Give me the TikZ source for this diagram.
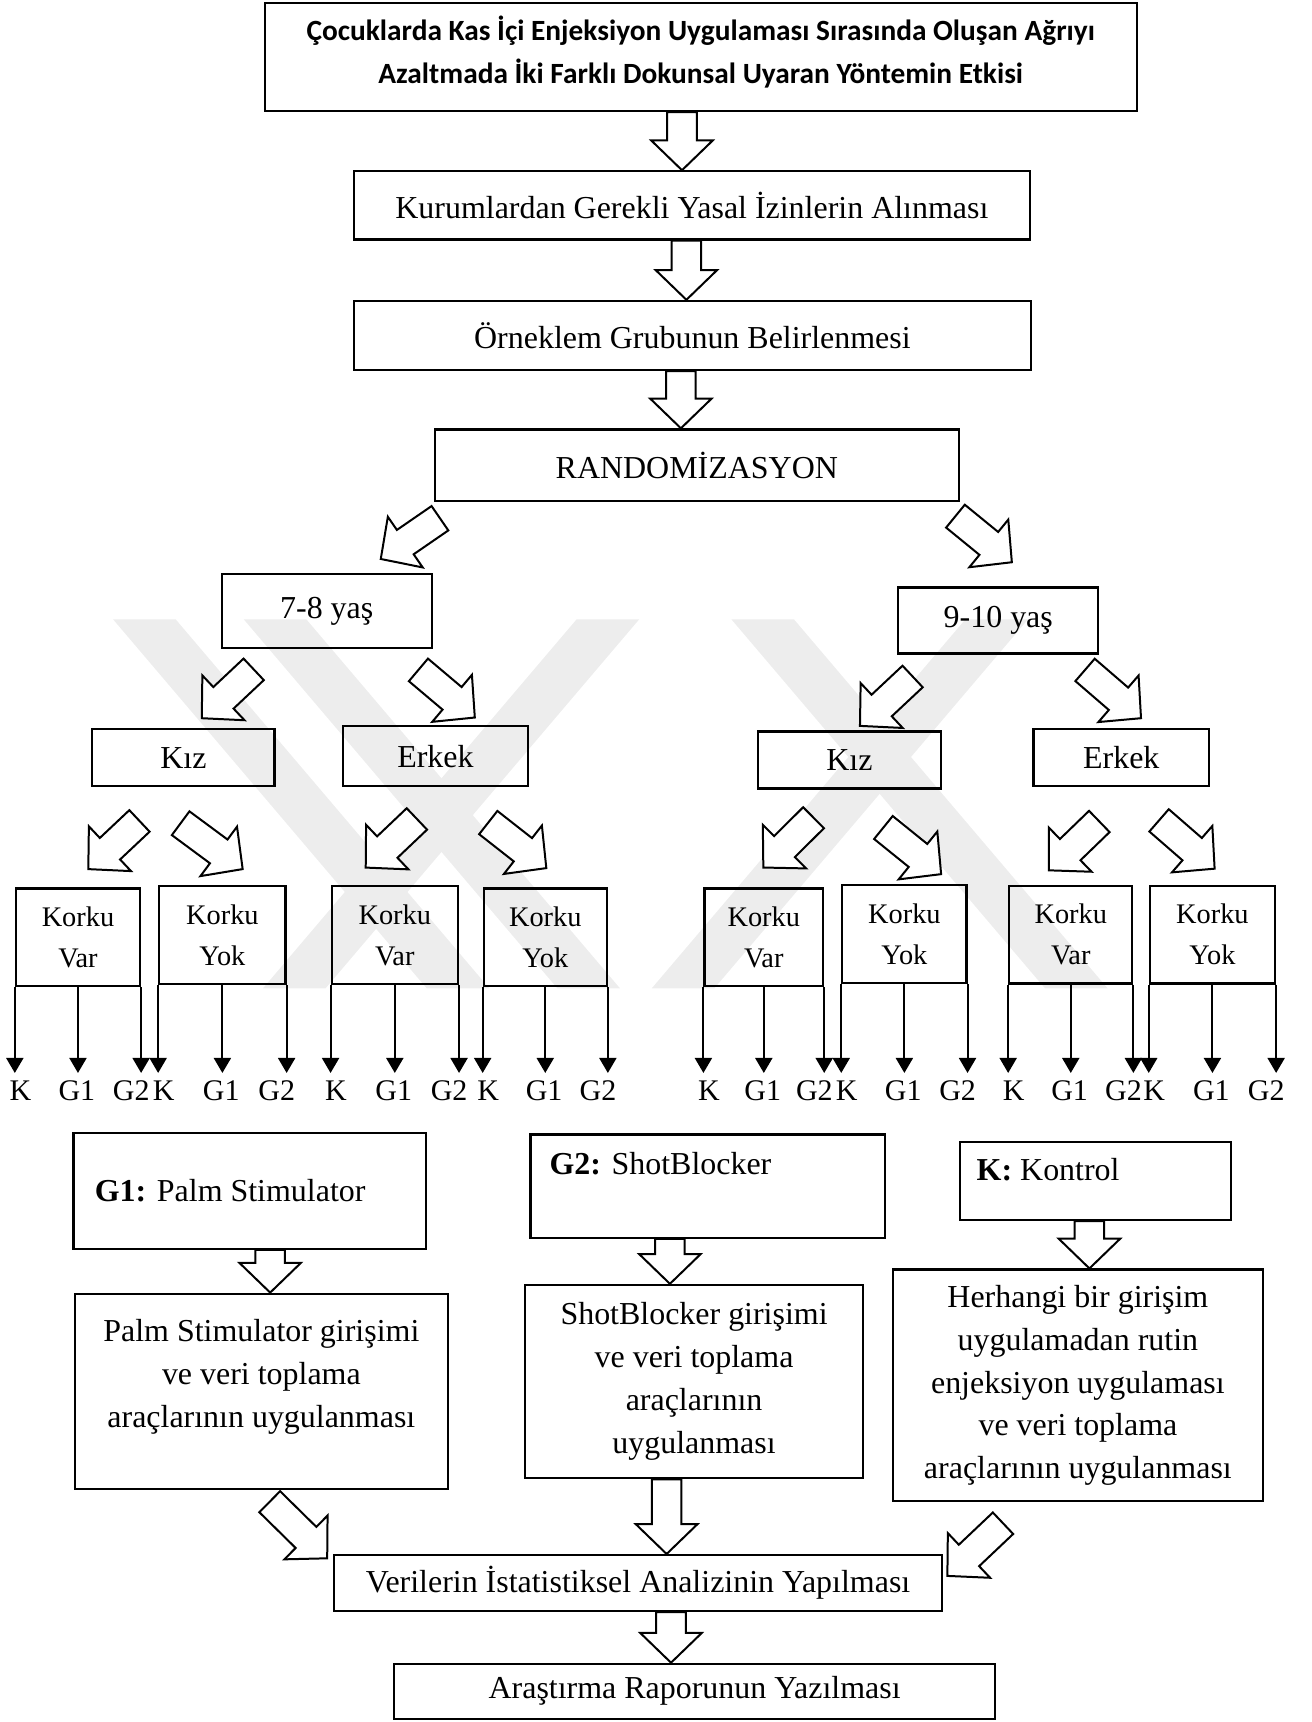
\documentclass[tikz,border=0pt]{standalone}
\usepackage{fontspec}
\setmainfont{Liberation Serif}
\newfontfamily\titlefont{Carlito}
\usetikzlibrary{arrows.meta,calc}

\def\pxu{0.55pt}

\tikzset{
    block/.style={draw, line width=1.1pt, inner sep=0pt, align=center,
        font=\fontsize{16}{21.5}\selectfont},
    sz/.style 2 args={minimum width=#1*\pxu, minimum height=#2*\pxu},
    korku/.style={block, font=\fontsize{14.2}{20.4}\selectfont},
    fatarr/.style={draw, line width=1pt, fill=white},
    splitarr/.style={line width=1pt, -{Triangle[width=8.5pt, length=7.5pt]}},
    grp/.style={anchor=base, inner sep=0pt, font=\fontsize{15}{18}\selectfont},
    tag/.style={anchor=west, inner sep=0pt, font=\fontsize{16}{21.5}\selectfont},
    inner/.style={inner sep=0pt, align=center, font=\fontsize{16}{21.5}\selectfont},
    wmark/.style={fill=black!7},
}

\newcommand{\fatarrow}[2]{%
    \path let \p1=(#1), \p2=(#2),
        \n1={atan2(\y2-\y1,\x2-\x1)}, \n2={veclen(\x2-\x1,\y2-\y1)} in
        \pgfextra{\xdef\fatang{\n1}\xdef\fatlen{\n2}};
    \draw[fatarr, shift={(#1)}, rotate=\fatang]
        (0pt,-7.4pt) -- ({\fatlen-14.9pt},-7.4pt) -- ({\fatlen-14.9pt},-15.4pt)
        -- ({\fatlen},0pt) -- ({\fatlen-14.9pt},15.4pt) -- ({\fatlen-14.9pt},7.4pt)
        -- (0pt,7.4pt) -- cycle;
}

\begin{document}
\begin{tikzpicture}[x=0.55pt, y=-0.55pt]
    \useasboundingbox (0,0) rectangle (1194,1568);

    \foreach \xa/\xb in {103/388.6, 222/507.6, 525/239.4, 666/951.6, 879/593.4}
        \fill[wmark] (\xa,564) -- ++(57,0) -- (\xb+57,900) -- (\xb,900) -- cycle;

    \node[block, sz={794}{98}] (title) at (638,52) {};
    \node[inner, font=\titlefont\bfseries\fontsize{14.7}{21.5}\selectfont] (titletext) at ($(title)+(0,-5)$)
        {Çocuklarda Kas İçi Enjeksiyon Uygulaması Sırasında Oluşan Ağrıyı\\Azaltmada İki Farklı Dokunsal Uyaran Yöntemin Etkisi};
    \node[block, sz={616}{62}] (kurum) at (630,187) {Kurumlardan Gerekli Yasal İzinlerin Alınması};
    \node[block, sz={617}{63}] (orn) at (630.5,305.5) {Örneklem Grubunun Belirlenmesi};
    \node[block, sz={477}{65}] (rand) at (634.5,423.5) {RANDOMİZASYON};

    \node[block, sz={191}{67}] (y78) at (297.5,556.5) {7-8 yaş};
    \node[block, sz={182}{60}] (y910) at (909,565) {9-10 yaş};

    \node[block, sz={166}{52}] (kiz1) at (167,690) {Kız};
    \node[block, sz={169}{55}] (erk1) at (396.5,688.5) {Erkek};
    \node[block, sz={167}{52}] (kiz2) at (773.5,692) {Kız};
    \node[block, sz={160}{52}] (erk2) at (1021,690) {Erkek};

    \coordinate (tiprow) at (0,977);
    \coordinate (labrow) at (0,1002);
    \foreach \nm/\x/\y/\w/\lbl in {kv1/71/853.5/113/Var, ky1/202.5/851.5/115/Yok,
        kv2/359.5/851.5/115/Var, ky2/496.5/853.5/112/Yok, kv3/695.5/853.5/108/Var,
        ky3/823.5/850.5/113/Yok, kv4/975/851/112/Var, ky4/1104/851/114/Yok}{
        \node[korku, sz={\w}{89}] (\nm) at (\x,\y) {Korku\\\lbl};
        \node[grp] (\nm-k) at ($(\nm.south west |- labrow)+(5,0)$) {K};
        \node[grp] (\nm-g1) at ($(\nm.south |- labrow)+(-1,0)$) {G1};
        \node[grp] (\nm-g2) at ($(\nm.south east |- labrow)+(-9,0)$) {G2};
        \draw[splitarr] (\nm.south west) -- (\nm.south west |- tiprow);
        \draw[splitarr] (\nm.south) -- (\nm.south |- tiprow);
        \draw[splitarr] (\nm.south east) -- (\nm.south east |- tiprow);
    }

    \node[block, sz={321}{105}] (g1) at (227.5,1084.5) {};
    \node[tag] (g1t) at ($(g1.west)+(20,0)$) {\textbf{G1:} Palm Stimulator};
    \node[block, sz={323}{94}] (g2) at (644.5,1080) {};
    \node[tag] (g2t) at ($(g2.north west)+(18,28)$) {\textbf{G2:} ShotBlocker};
    \node[block, sz={247}{71}] (k) at (997.5,1075.5) {};
    \node[tag] (kt) at ($(k.north west)+(16,26)$) {\textbf{K:} Kontrol};

    \node[block, sz={340}{178}] (g1l) at (238,1267) {};
    \node[inner] (g1ltext) at ($(g1l)+(0,-13)$) {Palm Stimulator girişimi\\ve veri toplama\\araçlarının uygulanması};
    \node[block, sz={308}{176}] (g2l) at (632,1258) {ShotBlocker girişimi\\ve veri toplama\\araçlarının\\uygulanması};
    \node[block, sz={337}{211}] (kl) at (981.5,1261.5) {Herhangi bir girişim\\uygulamadan rutin\\enjeksiyon uygulaması\\ve veri toplama\\araçlarının uygulanması};

    \node[block, sz={554}{51}] (ver) at (581,1441.5) {Verilerin İstatistiksel Analizinin Yapılması};
    \node[block, sz={547}{50}] (ara) at (632.5,1540) {Araştırma Raporunun Yazılması};

    \fatarrow{$(title.south)+(-17,0)$}{$(kurum.north)+(-9,0)$}
    \fatarrow{$(kurum.south)+(-5,0)$}{$(orn.north)+(-5.5,0)$}
    \fatarrow{$(orn.south)+(-10.5,0)$}{$(rand.north)+(-14.5,0)$}

    \fatarrow{$(rand.south west)+(5.6,14.9)$}{$(y78.north)+(49.2,-13)$}
    \fatarrow{$(rand.south east)+(-4,13)$}{$(y910.north)+(12.4,-22)$}

    \fatarrow{$(y78.south)+(-66.5,18.5)$}{$(kiz1.north)+(16.7,-9)$}
    \fatarrow{$(y78.south)+(83.5,19)$}{$(erk1.north)+(35.9,-6.6)$}
    \fatarrow{$(y910.south)+(-78,20)$}{$(kiz2.north)+(9.5,-4)$}
    \fatarrow{$(y910.south)+(79,14)$}{$(erk2.north)+(18,-9)$}

    \fatarrow{$(kiz1.south)+(-40,30.5)$}{$(kv1.north)+(9.4,-16.6)$}
    \fatarrow{$(kiz1.south)+(-2.5,32.6)$}{$(ky1.north)+(18.5,-14.6)$}
    \fatarrow{$(erk1.south)+(-16.9,28.7)$}{$(kv2.north)+(-26.5,-16)$}
    \fatarrow{$(erk1.south)+(48.1,32)$}{$(ky2.north)+(1,-17.5)$}
    \fatarrow{$(kiz2.south)+(-32.7,25.6)$}{$(kv3.north)+(-0.5,-18)$}
    \fatarrow{$(kiz2.south)+(30.9,34.5)$}{$(ky3.north)+(33.5,-9)$}
    \fatarrow{$(erk2.south)+(-20,31)$}{$(kv4.north)+(-20,-13)$}
    \fatarrow{$(erk2.south)+(34.4,30)$}{$(ky4.north)+(2,-14.5)$}

    \fatarrow{$(g1.south)+(18.5,0)$}{$(g1l.north)+(8,0)$}
    \fatarrow{$(g2.south)+(-34.5,0)$}{$(g2l.north)+(-22,0)$}
    \fatarrow{$(k.south)+(-5.5,0)$}{$(kl.north)+(10.5,0)$}

    \fatarrow{$(g1l.south)+(7.6,10.4)$}{$(ver.north west)+(-5,4)$}
    \fatarrow{$(g2l.south)+(-25,0)$}{$(ver.north)+(26,0)$}
    \fatarrow{$(kl.south)+(-68.2,19)$}{$(ver.north east)+(3.6,20)$}
    \fatarrow{$(ver.south)+(30,0)$}{$(ara.north)+(-21.5,0)$}
\end{tikzpicture}
\end{document}
